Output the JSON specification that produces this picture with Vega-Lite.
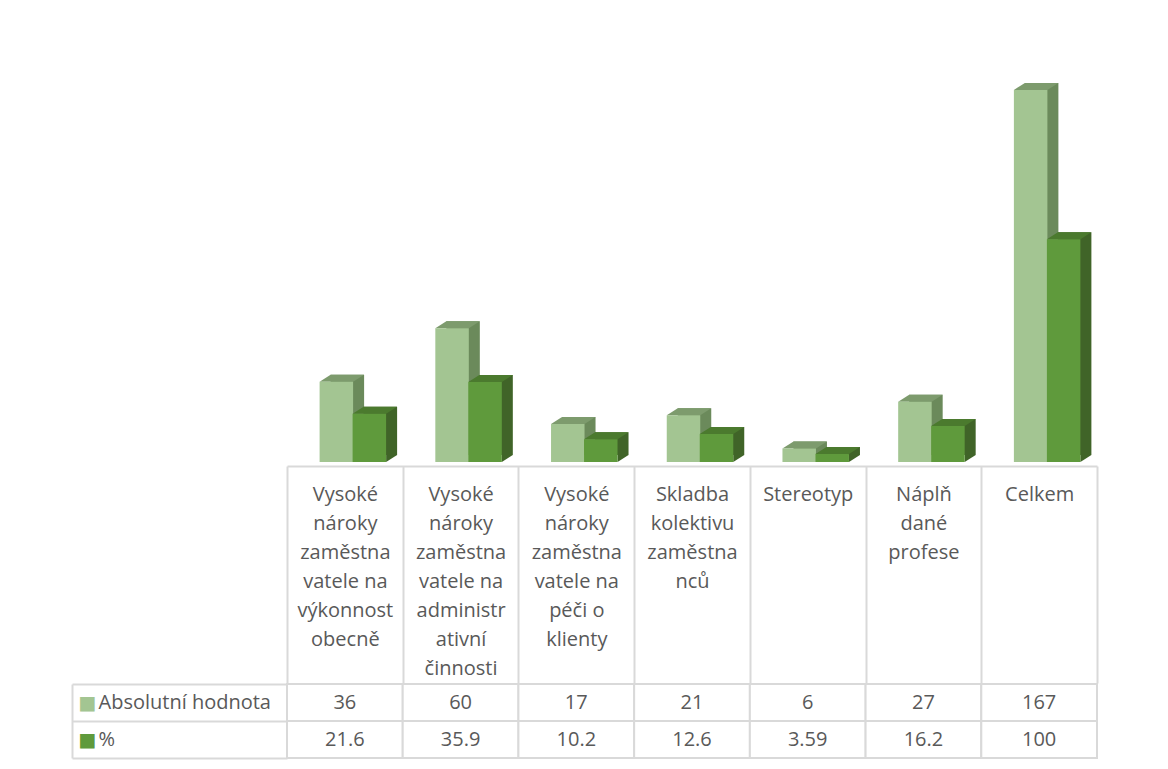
{
  "$schema": "https://vega.github.io/schema/vega-lite/v6.json",
  "padding": {"left": 71, "top": 20, "right": 5, "bottom": 5},
  "background": "white",
  "config": {"view": {"stroke": null}, "font": "Open Sans"},
  "datasets": {
    "tab": [
      {"kategorie": "Vysoké\nnároky\nzaměstna\nvatele na\nvýkonnost\nobecně", "rada": "Absolutní hodnota", "hodnota": 36},
      {"kategorie": "Vysoké\nnároky\nzaměstna\nvatele na\nvýkonnost\nobecně", "rada": "%", "hodnota": 21.6},
      {"kategorie": "Vysoké\nnároky\nzaměstna\nvatele na\nadministr\nativní\nčinnosti", "rada": "Absolutní hodnota", "hodnota": 60},
      {"kategorie": "Vysoké\nnároky\nzaměstna\nvatele na\nadministr\nativní\nčinnosti", "rada": "%", "hodnota": 35.9},
      {"kategorie": "Vysoké\nnároky\nzaměstna\nvatele na\npéči o\nklienty", "rada": "Absolutní hodnota", "hodnota": 17},
      {"kategorie": "Vysoké\nnároky\nzaměstna\nvatele na\npéči o\nklienty", "rada": "%", "hodnota": 10.2},
      {"kategorie": "Skladba\nkolektivu\nzaměstna\nnců", "rada": "Absolutní hodnota", "hodnota": 21},
      {"kategorie": "Skladba\nkolektivu\nzaměstna\nnců", "rada": "%", "hodnota": 12.6},
      {"kategorie": "Stereotyp", "rada": "Absolutní hodnota", "hodnota": 6},
      {"kategorie": "Stereotyp", "rada": "%", "hodnota": 3.59},
      {"kategorie": "Náplň\ndané\nprofese", "rada": "Absolutní hodnota", "hodnota": 27},
      {"kategorie": "Náplň\ndané\nprofese", "rada": "%", "hodnota": 16.2},
      {"kategorie": "Celkem", "rada": "Absolutní hodnota", "hodnota": 167},
      {"kategorie": "Celkem", "rada": "%", "hodnota": 100}
    ]
  },
  "spacing": -15,
  "vconcat": [
    {
      "width": 810,
      "height": 446,
      "data": {"name": "tab"},
      "encoding": {
        "x": {
          "field": "kategorie", "type": "nominal", "sort": null,
          "scale": {"paddingInner": 0, "paddingOuter": 0},
          "axis": {
            "title": null, "orient": "bottom",
            "domainColor": "#D9D9D9", "domainWidth": 2,
            "ticks": true, "tickBand": "extent", "tickSize": 217, "tickColor": "#D9D9D9", "tickWidth": 2,
            "labelExpr": "isValid(datum.value) ? split(datum.value, '\\n') : ''",
            "labelAngle": 0, "labelBaseline": "top", "labelAlign": "center",
            "labelPadding": -199, "labelFontSize": 20, "labelLineHeight": 29,
            "labelColor": "#595959", "labelFont": "Open Sans", "labelLimit": 0
          }
        },
        "y": {
          "field": "hodnota", "type": "quantitative",
          "scale": {"domain": [-1.8, 198.4], "nice": false, "zero": false},
          "axis": null
        }
      },
      "layer": [
        {
          "transform": [{"filter": "datum.rada === 'Absolutní hodnota'"}],
          "mark": {"type": "bar", "width": 33.5, "xOffset": 2.5, "yOffset": -7, "y2Offset": -7, "color": "#6B8A5B"},
          "encoding": {"y2": {"datum": 0}}
        },
        {
          "transform": [{"filter": "datum.rada === 'Absolutní hodnota'"}],
          "mark": {"type": "point", "shape": "M0,0 L11,-7 L44.5,-7 L33.5,0 Z", "size": 4, "filled": true, "opacity": 1, "strokeWidth": 0, "color": "#7D9B6D", "xOffset": -25.25}
        },
        {
          "transform": [{"filter": "datum.rada === 'Absolutní hodnota'"}],
          "mark": {"type": "bar", "width": 33.5, "xOffset": -8.5, "color": "#A3C592"},
          "encoding": {"y2": {"datum": 0}}
        },
        {
          "transform": [{"filter": "datum.rada === '%'"}],
          "mark": {"type": "bar", "width": 33.5, "xOffset": 35.5, "yOffset": -7, "y2Offset": -7, "color": "#406428"},
          "encoding": {"y2": {"datum": 0}}
        },
        {
          "transform": [{"filter": "datum.rada === '%'"}],
          "mark": {"type": "point", "shape": "M0,0 L11,-7 L44.5,-7 L33.5,0 Z", "size": 4, "filled": true, "opacity": 1, "strokeWidth": 0, "color": "#4B7A2E", "xOffset": 7.75}
        },
        {
          "transform": [{"filter": "datum.rada === '%'"}],
          "mark": {"type": "point", "shape": "M0,0 L0,-7 L11,-7 Z", "size": 4, "filled": true, "opacity": 1, "strokeWidth": 0, "color": "#406428", "xOffset": 41.25},
          "encoding": {"y": {"datum": 0, "type": "quantitative"}}
        },
        {
          "transform": [{"filter": "datum.rada === '%'"}],
          "mark": {"type": "bar", "width": 33.5, "xOffset": 24.5, "color": "#5F9A3C"},
          "encoding": {"y2": {"datum": 0}}
        }
      ]
    },
    {
      "width": 810,
      "height": 74,
      "data": {"name": "tab"},
      "encoding": {
        "x": {
          "field": "kategorie", "type": "nominal", "sort": null,
          "scale": {"paddingInner": 0, "paddingOuter": 0},
          "axis": null
        },
        "y": {
          "field": "rada", "type": "nominal", "sort": ["Absolutní hodnota", "%"],
          "scale": {"paddingInner": 0, "paddingOuter": 0}
        }
      },
      "resolve": {"axis": {"y": "independent"}},
      "layer": [
        {
          "mark": {"type": "rect", "fill": "white", "stroke": "#D9D9D9", "strokeWidth": 2},
          "encoding": {
            "y": {
              "field": "rada", "type": "nominal", "sort": ["Absolutní hodnota", "%"],
              "scale": {"paddingInner": 0, "paddingOuter": 0},
              "axis": {
                "title": null, "orient": "left", "domain": false,
                "ticks": true, "tickBand": "extent", "tickSize": 215, "tickColor": "#D9D9D9", "tickWidth": 2,
                "labelAlign": "left", "labelPadding": -26, "labelFontSize": 20,
                "labelColor": "#595959", "labelFont": "Open Sans", "labelLimit": 0
              }
            }
          }
        },
        {
          "mark": {"type": "text", "fontSize": 20, "color": "#595959", "font": "Open Sans"},
          "encoding": {
            "text": {"field": "hodnota", "type": "quantitative", "format": ""},
            "y": {
              "field": "rada", "type": "nominal", "sort": ["Absolutní hodnota", "%"],
              "scale": {"paddingInner": 0, "paddingOuter": 0},
              "axis": {
                "title": null, "orient": "left", "offset": 215,
                "domain": true, "domainColor": "#D9D9D9", "domainWidth": 2,
                "ticks": false,
                "labelExpr": "'■'",
                "labelAlign": "left", "labelPadding": -6, "labelFontSize": 19,
                "labelColor": {"expr": "datum.value === '%' ? '#5F9A3C' : '#A3C592'"},
                "labelFont": "DejaVu Sans"
              }
            }
          }
        }
      ]
    }
  ]
}
